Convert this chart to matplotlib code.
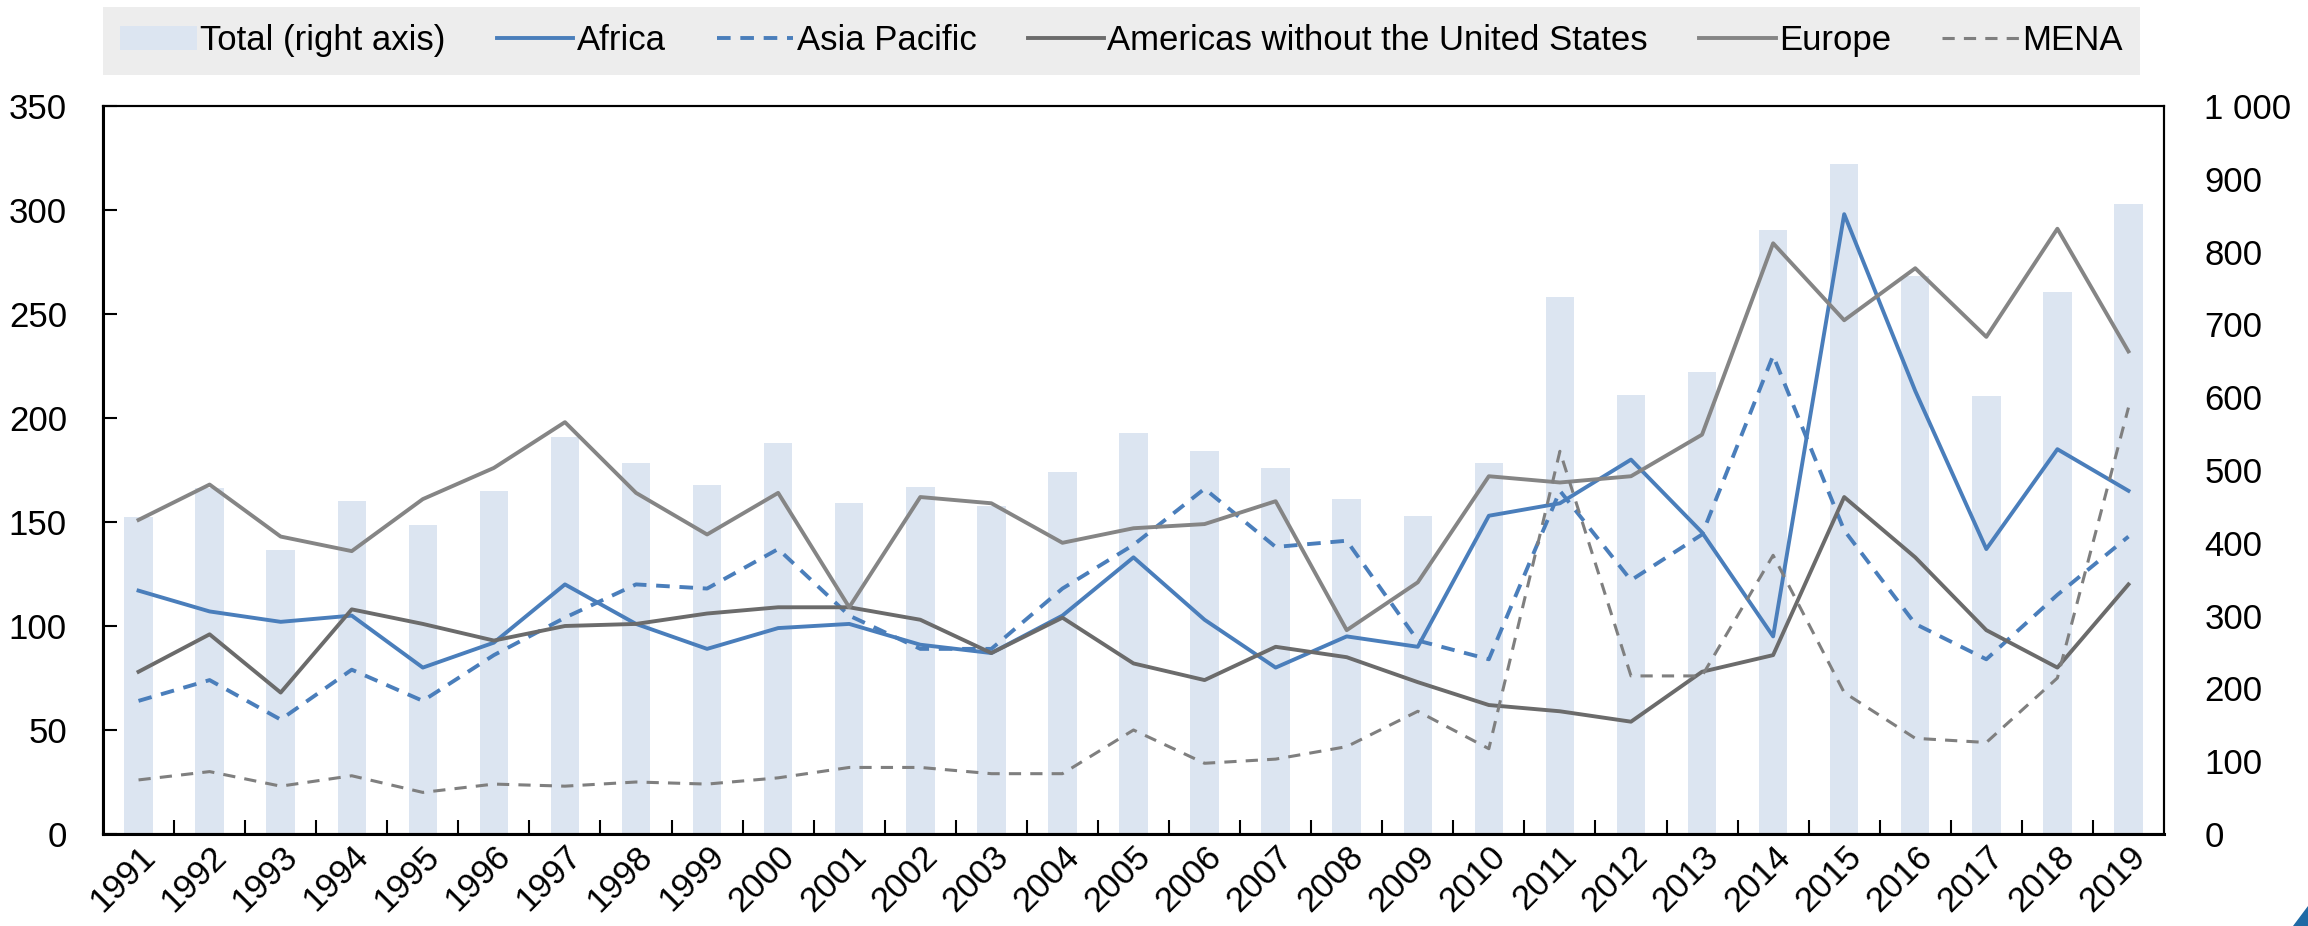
import numpy as np
import matplotlib
matplotlib.use("Agg")
import matplotlib.pyplot as plt
import matplotlib.transforms as mtransforms
from matplotlib.patches import Polygon
from matplotlib.ticker import FuncFormatter

years = list(range(1991, 2020))
total = [435, 475, 390, 457, 425, 471, 546, 509, 480, 537, 454, 477, 451, 497, 551,
         526, 503, 460, 437, 509, 737, 603, 634, 829, 920, 766, 601, 744, 866]
africa = [117, 107, 102, 105, 80, 92, 120, 101, 89, 99, 101, 91, 87, 105, 133,
          103, 80, 95, 90, 153, 159, 180, 145, 95, 298, 213, 137, 185, 165]
asia_pacific = [64, 74, 55, 79, 64, 86, 104, 120, 118, 137, 105, 89, 89, 118, 139,
                166, 138, 141, 93, 84, 165, 122, 144, 230, 146, 101, 84, 115, 143]
americas = [78, 96, 68, 108, 101, 93, 100, 101, 106, 109, 109, 103, 87, 104, 82,
            74, 90, 85, 73, 62, 59, 54, 78, 86, 162, 133, 98, 80, 120]
europe = [151, 168, 143, 136, 161, 176, 198, 164, 144, 164, 109, 162, 159, 140, 147,
          149, 160, 98, 121, 172, 169, 172, 192, 284, 247, 272, 239, 291, 232]
mena = [26, 30, 23, 28, 20, 24, 23, 25, 24, 27, 32, 32, 29, 29, 50,
        34, 36, 42, 59, 41, 184, 76, 76, 134, 68, 46, 44, 75, 205]

plt.rcParams['font.family'] = ['Liberation Sans', 'DejaVu Sans']

fig = plt.figure(figsize=(23.08, 9.26), dpi=100)
ax = fig.add_axes([103 / 2308, 1 - 834 / 926, (2164 - 103) / 2308, (834 - 106) / 926])
ax2 = ax.twinx()

x = np.arange(len(years))

# bars on the right axis, drawn below the lines
ax.set_zorder(ax2.get_zorder() + 1)
ax.patch.set_visible(False)
ax2.set_facecolor('#F1FDFF')
bars = ax2.bar(x, total, width=0.4, color='#DCE5F1', zorder=2, label='Total (right axis)')

blue = '#4A7EBB'
l1, = ax.plot(x, africa, color=blue, lw=2.8, label='Africa')
l2, = ax.plot(x, asia_pacific, color=blue, lw=2.8, dashes=(3.5, 2.5), label='Asia Pacific')
l3, = ax.plot(x, americas, color='#6B6B6B', lw=2.8, label='Americas without the United States')
l4, = ax.plot(x, europe, color='#858585', lw=2.8, label='Europe')
l5, = ax.plot(x, mena, color='#7F7F7F', lw=2.2, dashes=(4, 3), label='MENA')

ax.set_xlim(-0.5, len(years) - 0.5)
ax.set_ylim(0, 350)
ax.set_yticks(np.arange(0, 351, 50))
ax2.set_ylim(0, 1000)
ax2.set_yticks(np.arange(0, 1001, 100))
ax2.yaxis.set_major_formatter(FuncFormatter(lambda v, p: f"{int(v):,}".replace(',', ' ')))

# white grid on the right axes background
for v in np.arange(50, 350, 50):
    ax2.axhline(v * 1000 / 350, color='white', lw=1.8, zorder=1)
for b in x[:-1] + 0.5:
    ax2.axvline(b, color='white', lw=1.8, zorder=1)

ax.set_xticks(x)
ax.set_xticklabels([str(y) for y in years], rotation=45, ha='right', va='top',
                   rotation_mode='anchor', fontsize=25)
offset = mtransforms.ScaledTranslation(0.40, 0.02, fig.dpi_scale_trans)
for lab in ax.get_xticklabels():
    lab.set_transform(lab.get_transform() + offset)
ax.tick_params(axis='x', which='major', length=0, pad=4)
ax.set_xticks(x[:-1] + 0.5, minor=True)
ax.tick_params(axis='x', which='minor', direction='in', length=10, width=1.5, color='black')
ax.tick_params(axis='y', direction='in', length=10, width=1.5, labelsize=25, pad=26)
ax2.tick_params(axis='y', length=0, labelsize=25, pad=29)
ax2.tick_params(axis='x', which='both', length=0)

for sp in ['left', 'bottom']:
    ax.spines[sp].set_linewidth(2.2)
for sp in ['top', 'right']:
    ax.spines[sp].set_linewidth(1.5)
for sp in ax2.spines.values():
    sp.set_linewidth(1.5)

leg = fig.legend([bars, l1, l2, l3, l4, l5],
                 ['Total (right axis)', 'Africa', 'Asia Pacific',
                  'Americas without the United States', 'Europe', 'MENA'],
                 loc='upper left', bbox_to_anchor=(103 / 2308, 1 - 7 / 926, (2140 - 103) / 2308, 0),
                 mode='expand', ncol=6, frameon=True, fancybox=False,
                 prop={'size': 25},
                 handlelength=2.2, handletextpad=0.1, columnspacing=1.4,
                 borderpad=0.5, borderaxespad=0)
leg.get_frame().set_facecolor('#E9E9E9')
leg.get_frame().set_edgecolor('none')

tri = Polygon([[2293 / 2308, 0], [1, 0], [1, 20 / 926]], closed=True,
              transform=fig.transFigure, color='#1F6AA5')
fig.patches.append(tri)

fig.savefig('out.png', dpi=100)
